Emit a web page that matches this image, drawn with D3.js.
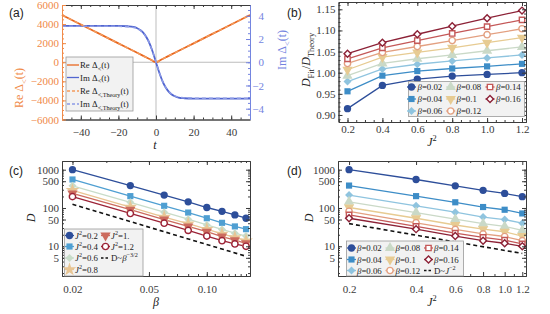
<!DOCTYPE html>
<html>
<head>
<meta charset="utf-8">
<script src="https://cdn.jsdelivr.net/npm/d3@7"></script>
<style>
body { margin: 0; background: #fff; }
</style>
</head>
<body>
<svg width="550" height="314"></svg>
<script>
const SERIF = "'Liberation Serif', 'DejaVu Serif', serif";
const SANS = "'Liberation Sans', Arial, sans-serif";

// ---- panel (a): correlation function vs t ----
const tA   = [-50, -40, -30, -20, -10, -6, -4, -2, -1, 0, 1, 2, 4, 6, 10, 20, 30, 40, 50];
const reA  = [4950, 3960, 2970, 1980, 990, 590, 390, 180, 70, 15, 70, 180, 390, 590, 990, 1980, 2970, 3960, 4950];
const reTh = [4950, 3960, 2970, 1980, 990, 590, 390, 190, 90, 40, 90, 190, 390, 590, 990, 1980, 2970, 3960, 4950];
const tIm  = [-50, -30, -20, -15, -12, -10, -8, -6, -4, -2, 0, 2, 4, 6, 8, 10, 12, 15, 20, 30, 50];
const imA  = [3.14, 3.14, 3.13, 3.10, 3.04, 2.93, 2.73, 2.38, 1.83, 1.01, 0, -1.01, -1.83, -2.38, -2.73, -2.93, -3.04, -3.10, -3.13, -3.14, -3.14];
const imTh = [3.10, 3.10, 3.09, 3.06, 3.00, 2.90, 2.70, 2.36, 1.82, 1.00, 0, -1.00, -1.82, -2.36, -2.70, -2.90, -3.00, -3.06, -3.09, -3.10, -3.10];

// ---- shared series definitions ----
const betas = [0.02, 0.04, 0.06, 0.08, 0.1, 0.12, 0.14, 0.16];
const betaLabels = ["0.02", "0.04", "0.06", "0.08", "0.1", "0.12", "0.14", "0.16"];
const betaColors = ["#2d4e9a", "#3d8dc7", "#8fc4df", "#cad9c7", "#e7cb92", "#e3a081", "#c45858", "#8c2136"];
const betaShapes = ["circle", "square", "diamond", "up", "down", "ocircle", "osquare", "odiamond"];

const J2 = [0.2, 0.4, 0.6, 0.8, 1.0, 1.2];
const J2Labels = ["0.2", "0.4", "0.6", "0.8", "1.", "1.2"];
const J2Colors = ["#2d4e9a", "#4f9fd2", "#c8dcc9", "#e8c594", "#cc6b5e", "#9b2236"];
const J2Shapes = ["circle", "square", "diamond", "star", "down", "ocircle"];

// ---- panel (b): D_Fit / D_Theory, one row per beta ----
const ratioFit = [
  [0.915, 0.970, 0.985, 0.992, 0.996, 1.000],
  [0.956, 0.993, 1.004, 1.010, 1.015, 1.021],
  [0.979, 1.009, 1.020, 1.028, 1.035, 1.042],
  [0.993, 1.022, 1.033, 1.042, 1.052, 1.061],
  [1.007, 1.037, 1.048, 1.059, 1.071, 1.083],
  [1.022, 1.048, 1.062, 1.076, 1.090, 1.104],
  [1.033, 1.059, 1.076, 1.093, 1.109, 1.125],
  [1.045, 1.071, 1.091, 1.110, 1.129, 1.147]
];

// ---- panels (c),(d): D, one row per J^2, columns follow betas ----
const Dvals = [
  [1000, 385, 218, 145, 103, 82, 66, 54],
  [555, 204, 114, 76, 54, 41, 33, 28],
  [380, 141, 78, 51, 36, 27.5, 22, 18.5],
  [289, 106, 58, 39, 28, 21, 17, 14],
  [240, 90, 50, 33, 24, 18, 14.5, 12],
  [198, 72, 40, 26, 18.5, 14, 11.5, 10]
];
const guideCx = [0.02, 0.16], guideCy = [125, 5.5];
const guideDx = [0.2, 1.2], guideDy = [39, 6.5];

const svg = d3.select("svg");
const none = () => "";

function put(g, maker, sc, tr, vals, fmt, size, color, pad) {
  const a = g.append("g").attr("transform", tr).attr("color", color)
    .call(maker(sc).tickValues(vals).tickFormat(fmt).tickSize(size).tickSizeOuter(0).tickPadding(pad));
  a.attr("font-family", SERIF).attr("font-size", 11);
  a.select(".domain").attr("stroke-width", 0.9);
  return a;
}

function frame(g, x, y, o) {
  const [xl, xr] = x.range(), [yb, yt] = y.range();
  const c = "#3a3a3a";
  const y2 = o.y2 || y;
  put(g, d3.axisBottom, x, `translate(0,${yb})`, o.xMinor, none, -2, c, 3);
  put(g, d3.axisBottom, x, `translate(0,${yb})`, o.xTicks, o.xFmt, -4, c, o.padB);
  put(g, d3.axisTop, x, `translate(0,${yt})`, o.xMinor, none, -2, c, 3);
  put(g, d3.axisTop, x, `translate(0,${yt})`, o.xTicks, none, -4, c, 3);
  put(g, d3.axisLeft, y, `translate(${xl},0)`, o.yMinor, none, -2, o.cL || c, 3);
  put(g, d3.axisLeft, y, `translate(${xl},0)`, o.yTicks, o.yFmt, -4, o.cL || c, 3);
  put(g, d3.axisRight, y2, `translate(${xr},0)`, o.y2Minor || o.yMinor, none, -2, o.cR || c, 3);
  const r = put(g, d3.axisRight, y2, `translate(${xr},0)`, o.y2Ticks || o.yTicks, o.y2Fmt || none, -4, o.cR || c, 3);
  if (o.y2Fmt) r.selectAll("text").attr("text-anchor", "end").attr("x", 14);
}

function rich(t, segs, fs) {
  let shift = 0;
  segs.forEach(s => {
    const target = s.sub ? fs * 0.3 : s.sup ? -fs * 0.4 : 0;
    const sp = t.append("tspan").text(s.t).attr("dy", target - shift);
    if (s.i) sp.attr("font-style", "italic");
    if (s.sub || s.sup) sp.attr("font-size", fs * 0.7);
    shift = target;
  });
}

function title(x, y, rot, segs, color, fs) {
  const t = svg.append("text").attr("transform", `translate(${x},${y}) rotate(${rot})`)
    .attr("text-anchor", "middle").attr("font-family", SERIF).attr("font-size", fs).attr("fill", color);
  rich(t, segs, fs);
}

function marker(g, shape, color, cx, cy) {
  const open = shape[0] === "o";
  const base = open ? shape.slice(1) : shape;
  let type = d3.symbolCircle, size = 42, rot = 0;
  if (base === "square") { type = d3.symbolSquare; size = 38; }
  if (base === "diamond") { type = d3.symbolSquare; size = 32; rot = 45; }
  if (base === "up") { type = d3.symbolTriangle; size = 46; }
  if (base === "down") { type = d3.symbolTriangle; size = 46; rot = 180; }
  if (base === "star") { type = d3.symbolStar; size = 58; }
  if (open) size *= 0.75;
  g.append("path").attr("d", d3.symbol(type, size)())
    .attr("transform", `translate(${cx},${cy}) rotate(${rot})`)
    .attr("fill", open ? "#fff" : color)
    .attr("stroke", open ? color : "none").attr("stroke-width", 1.4);
}

function legend(g, box, cols, rows, items) {
  g.append("rect").attr("x", box[0]).attr("y", box[1]).attr("width", box[2] - box[0]).attr("height", box[3] - box[1])
    .attr("fill", "#f2f2f2").attr("stroke", "#9a9a9a").attr("stroke-width", 0.8);
  items.forEach((it, k) => {
    const col = cols[Math.floor(k / rows.length)], y = rows[k % rows.length];
    const half = col.w || 4.5;
    g.append("line").attr("x1", col.m - half).attr("x2", col.m + half).attr("y1", y).attr("y2", y)
      .attr("stroke", it.color).attr("stroke-width", it.dash ? 1.5 : 1.3).attr("stroke-dasharray", it.dash || null);
    if (it.shape) marker(g, it.shape, it.color, col.m, y);
    const t = g.append("text").attr("x", col.t).attr("y", y + 3)
      .attr("font-family", SERIF).attr("font-size", 8.8).attr("fill", "#222");
    rich(t, it.segs, 8.8);
  });
}

function panelLabel(x, y, s) {
  svg.append("text").attr("x", x).attr("y", y).attr("font-family", SANS).attr("font-size", 12).attr("fill", "#222").text(s);
}

// ================= (a) =================
{
  const g = svg.append("g");
  const x = d3.scaleLinear().domain([-50, 50]).range([62, 250]);
  const y = d3.scaleLinear().domain([-6000, 6000]).range([119.5, 5]);
  const y2 = d3.scaleLinear().domain([-4.93, 4.93]).range([119.5, 5]);
  const orange = "#e8661e", blue = "#5266d0";

  g.append("line").attr("x1", x(0)).attr("x2", x(0)).attr("y1", 5).attr("y2", 119.5).attr("stroke", "#b5b5b5").attr("stroke-width", 0.9);
  g.append("line").attr("x1", 62).attr("x2", 250).attr("y1", y(0)).attr("y2", y(0)).attr("stroke", "#b5b5b5").attr("stroke-width", 0.9);

  const lnIm = d3.line().x((d, i) => x(tIm[i])).y(d => y2(d)).curve(d3.curveMonotoneX);
  const lnRe = d3.line().x((d, i) => x(tA[i])).y(d => y(d)).curve(d3.curveMonotoneX);
  g.append("path").attr("d", lnIm(imA)).attr("fill", "none").attr("stroke", blue).attr("stroke-width", 1.8);
  g.append("path").attr("d", lnRe(reA)).attr("fill", "none").attr("stroke", orange).attr("stroke-width", 1.8);
  g.append("path").attr("d", lnRe(reTh)).attr("fill", "none").attr("stroke", "#f39a5c").attr("stroke-width", 1.5).attr("stroke-dasharray", "4,3");
  g.append("path").attr("d", lnIm(imTh)).attr("fill", "none").attr("stroke", "#8c9ae6").attr("stroke-width", 1.5).attr("stroke-dasharray", "4,3");

  frame(g, x, y, {
    xTicks: [-40, -20, 0, 20, 40], xMinor: d3.range(-50, 51, 5), xFmt: d3.format("d"), padB: 9,
    yTicks: d3.range(-6000, 6001, 2000), yMinor: d3.range(-6000, 6001, 500), yFmt: d3.format("d"),
    y2: y2, y2Ticks: [-4, -2, 0, 2, 4], y2Minor: d3.range(-4.5, 4.6, 0.5), y2Fmt: d3.format("d"),
    cL: "#f08a48", cR: "#7383e0"
  });

  legend(g, [66, 57, 133, 111], [{ m: 73, t: 80, w: 6 }], [65, 77.5, 91, 104], [
    { color: orange, segs: [{ t: "Re Δ" }, { t: "<", sub: 1 }, { t: "(t)" }] },
    { color: blue, segs: [{ t: "Im Δ" }, { t: "<", sub: 1 }, { t: "(t)" }] },
    { color: "#f39a5c", dash: "3,2", segs: [{ t: "Re Δ" }, { t: "<,Theory", sub: 1 }, { t: "(t)" }] },
    { color: "#8c9ae6", dash: "3,2", segs: [{ t: "Im Δ" }, { t: "<,Theory", sub: 1 }, { t: "(t)" }] }
  ]);

  title(23, 88, -90, [{ t: "Re Δ" }, { t: "<", sub: 1 }, { t: "(t)" }], "#f08a48", 12);
  title(286, 50, -90, [{ t: "Im Δ" }, { t: "<", sub: 1 }, { t: "(t)" }], "#7383e0", 12);
  title(155, 149, 0, [{ t: "t", i: 1 }], "#222", 12);
  panelLabel(9, 17, "(a)");
}

// ================= (b) =================
{
  const g = svg.append("g");
  const x = d3.scaleLinear().domain([0.1484, 1.2229]).range([338.5, 526]);
  const y = d3.scaleLinear().domain([0.8834, 1.1673]).range([122, 2]);
  const ln = d3.line().x((d, i) => x(J2[i])).y(d => y(d));
  ratioFit.forEach((row, k) => {
    g.append("path").attr("d", ln(row)).attr("fill", "none").attr("stroke", betaColors[k]).attr("stroke-width", 1.3);
  });
  ratioFit.forEach((row, k) => {
    row.forEach((v, i) => marker(g, betaShapes[k], betaColors[k], x(J2[i]), y(v)));
  });
  frame(g, x, y, {
    xTicks: J2, xMinor: d3.range(0.15, 1.23, 0.05), xFmt: d3.format(".1f"), padB: 3,
    yTicks: d3.range(0.90, 1.151, 0.05), yMinor: d3.range(0.89, 1.165, 0.01), yFmt: d3.format(".2f")
  });
  legend(g, [408.5, 81.5, 524.5, 116.5], [{ m: 411.5, t: 417.5 }, { m: 450.7, t: 456.5 }, { m: 490, t: 496 }], [87, 99, 111],
    betas.map((b, k) => ({ color: betaColors[k], shape: betaShapes[k], segs: [{ t: "β", i: 1 }, { t: "=" + betaLabels[k] }] })));
  title(310, 60, -90, [{ t: "D", i: 1 }, { t: "Fit", sub: 1 }, { t: "/" }, { t: "D", i: 1 }, { t: "Theory", sub: 1 }], "#222", 12);
  title(432, 146, 0, [{ t: "J", i: 1 }, { t: "2", sup: 1 }], "#222", 12);
  panelLabel(287, 17, "(b)");
}

const logMinor = d3.range(0, 4).flatMap(e => d3.range(1, 10).map(m => m * Math.pow(10, e)));

// ================= (c) =================
{
  const g = svg.append("g");
  const x = d3.scaleLog().domain([0.01764, 0.1678]).range([62, 250]);
  const y = d3.scaleLog().domain([1.676, 1687]).range([276, 161]);
  const ln = d3.line().x((d, i) => x(betas[i])).y(d => y(d));
  g.append("path").attr("d", d3.line().x((d, i) => x(guideCx[i])).y(d => y(d))(guideCy))
    .attr("fill", "none").attr("stroke", "#111").attr("stroke-width", 1.6).attr("stroke-dasharray", "4,3");
  Dvals.forEach((row, k) => {
    g.append("path").attr("d", ln(row)).attr("fill", "none").attr("stroke", J2Colors[k]).attr("stroke-width", 1.3);
  });
  Dvals.forEach((row, k) => {
    row.forEach((v, i) => marker(g, J2Shapes[k], J2Colors[k], x(betas[i]), y(v)));
  });
  frame(g, x, y, {
    xTicks: [0.02, 0.05, 0.1], xMinor: d3.range(0.02, 0.1605, 0.01), xFmt: d3.format(".2f"), padB: 9,
    yTicks: [5, 10, 50, 100, 500, 1000], yMinor: logMinor.filter(v => v >= 2 && v <= 1600), yFmt: d3.format("d")
  });
  legend(g, [64.5, 229, 143, 276], [{ m: 69.5, t: 75 }, { m: 105.5, t: 111 }], [235.5, 246.5, 258, 269.5], [
    ...J2.map((j, k) => ({ color: J2Colors[k], shape: J2Shapes[k], segs: [{ t: "J", i: 1 }, { t: "2", sup: 1 }, { t: "=" + J2Labels[k] }] })),
    { color: "#111", dash: "2.5,2", segs: [{ t: "D~" }, { t: "β", i: 1 }, { t: "−3/2", sup: 1 }] }
  ]);
  title(35, 218, -90, [{ t: "D", i: 1 }], "#222", 12);
  title(156, 306, 0, [{ t: "β", i: 1 }], "#222", 12);
  panelLabel(9, 175, "(c)");
}

// ================= (d) =================
{
  const g = svg.append("g");
  const x = d3.scaleLog().domain([0.1784, 1.247]).range([338, 526]);
  const y = d3.scaleLog().domain([1.676, 1687]).range([276, 161]);
  const ln = d3.line().x((d, i) => x(J2[i])).y(d => y(d));
  g.append("path").attr("d", d3.line().x((d, i) => x(guideDx[i])).y(d => y(d))(guideDy))
    .attr("fill", "none").attr("stroke", "#111").attr("stroke-width", 1.6).attr("stroke-dasharray", "4,3");
  betas.forEach((b, k) => {
    const col = Dvals.map(r => r[k]);
    g.append("path").attr("d", ln(col)).attr("fill", "none").attr("stroke", betaColors[k]).attr("stroke-width", 1.3);
  });
  betas.forEach((b, k) => {
    Dvals.forEach((r, i) => marker(g, betaShapes[k], betaColors[k], x(J2[i]), y(r[k])));
  });
  frame(g, x, y, {
    xTicks: J2, xMinor: [0.3, 0.5, 0.7, 0.9, 1.1], xFmt: d3.format(".1f"), padB: 9,
    yTicks: [5, 10, 50, 100, 500, 1000], yMinor: logMinor.filter(v => v >= 2 && v <= 1600), yFmt: d3.format("d")
  });
  legend(g, [346.5, 241, 463.5, 276], [{ m: 351.5, t: 357 }, { m: 390, t: 395.5 }, { m: 428.5, t: 434 }], [248, 259.5, 270.5], [
    ...betas.map((b, k) => ({ color: betaColors[k], shape: betaShapes[k], segs: [{ t: "β", i: 1 }, { t: "=" + betaLabels[k] }] })),
    { color: "#111", dash: "2.5,2", segs: [{ t: "D~" }, { t: "J", i: 1 }, { t: "−2", sup: 1 }] }
  ]);
  title(313, 218, -90, [{ t: "D", i: 1 }], "#222", 12);
  title(432, 306, 0, [{ t: "J", i: 1 }, { t: "2", sup: 1 }], "#222", 12);
  panelLabel(287, 175, "(d)");
}
</script>
</body>
</html>
